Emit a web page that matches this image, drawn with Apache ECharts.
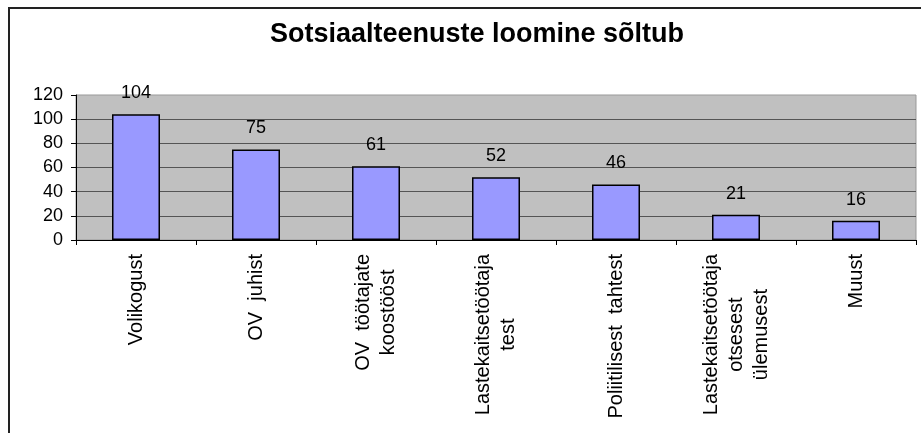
<!DOCTYPE html>
<html>
<head>
<meta charset="utf-8">
<script src="https://cdn.jsdelivr.net/npm/echarts@6/dist/echarts.min.js"></script>
<style>
html,body{margin:0;padding:0;background:#fff;}
#c{width:921px;height:433px;}
</style>
</head>
<body>
<div id="c"></div>
<script>
var titleText = 'Sotsiaalteenuste loomine sõltub';
var categories = ['Volikogust', 'OV  juhist', 'OV  töötajate\nkoostööst', 'Lastekaitsetöötaja\ntest', 'Poliitilisest  tahtest', 'Lastekaitsetöötaja\notsesest\nülemusest', 'Muust'];
var values = [104, 75, 61, 52, 46, 21, 16];
var yMin = 0, yMax = 120, yStep = 20;

var FONT = '"Liberation Sans", Arial, sans-serif';
var chart = echarts.init(document.getElementById('c'), null, {renderer: 'canvas'});
chart.setOption({
  animation: false,
  backgroundColor: '#fff',
  textStyle: {fontFamily: FONT},
  title: {
    text: titleText,
    left: 472, top: 16, textAlign: 'center',
    textStyle: {fontFamily: FONT, fontSize: 27, fontWeight: 'bold', color: '#000'}
  },
  graphic: [{
    type: 'rect', silent: true, z: -1,
    shape: {x: 9, y: 8, width: 1000, height: 1000},
    style: {fill: 'none', stroke: '#222', lineWidth: 2}
  }],
  grid: {
    left: 76, right: 5, top: 95, bottom: 193,
    show: true, backgroundColor: '#C0C0C0', borderColor: '#999', borderWidth: 1
  },
  xAxis: {
    type: 'category',
    data: categories,
    axisLine: {lineStyle: {color: '#000', width: 1}},
    axisTick: {show: true, length: 5, lineStyle: {color: '#000'}},
    axisLabel: {
      interval: 0, rotate: 90, margin: 14, color: '#000',
      fontFamily: FONT, fontSize: 20,
      formatter: function (v) {
        return v.split('\n').map(function (l) { return '{c|' + l + '}'; }).join('\n');
      },
      rich: {c: {align: 'center', lineHeight: 25, fontSize: 20, fontFamily: FONT, color: '#000'}}
    }
  },
  yAxis: {
    type: 'value', min: yMin, max: yMax, interval: yStep,
    axisLine: {show: true, lineStyle: {color: '#000', width: 1}},
    axisTick: {show: true, length: 5, lineStyle: {color: '#000'}},
    axisLabel: {margin: 13, color: '#000', fontFamily: FONT, fontSize: 18},
    splitLine: {show: true, showMaxLine: false, lineStyle: {color: '#555', width: 1}}
  },
  series: [{
    type: 'bar',
    data: values,
    barWidth: '40%',
    itemStyle: {color: '#9999FF', borderColor: '#000', borderWidth: 1.5},
    label: {show: true, position: 'top', distance: 12, color: '#000', fontFamily: FONT, fontSize: 18}
  }]
});
</script>
</body>
</html>
